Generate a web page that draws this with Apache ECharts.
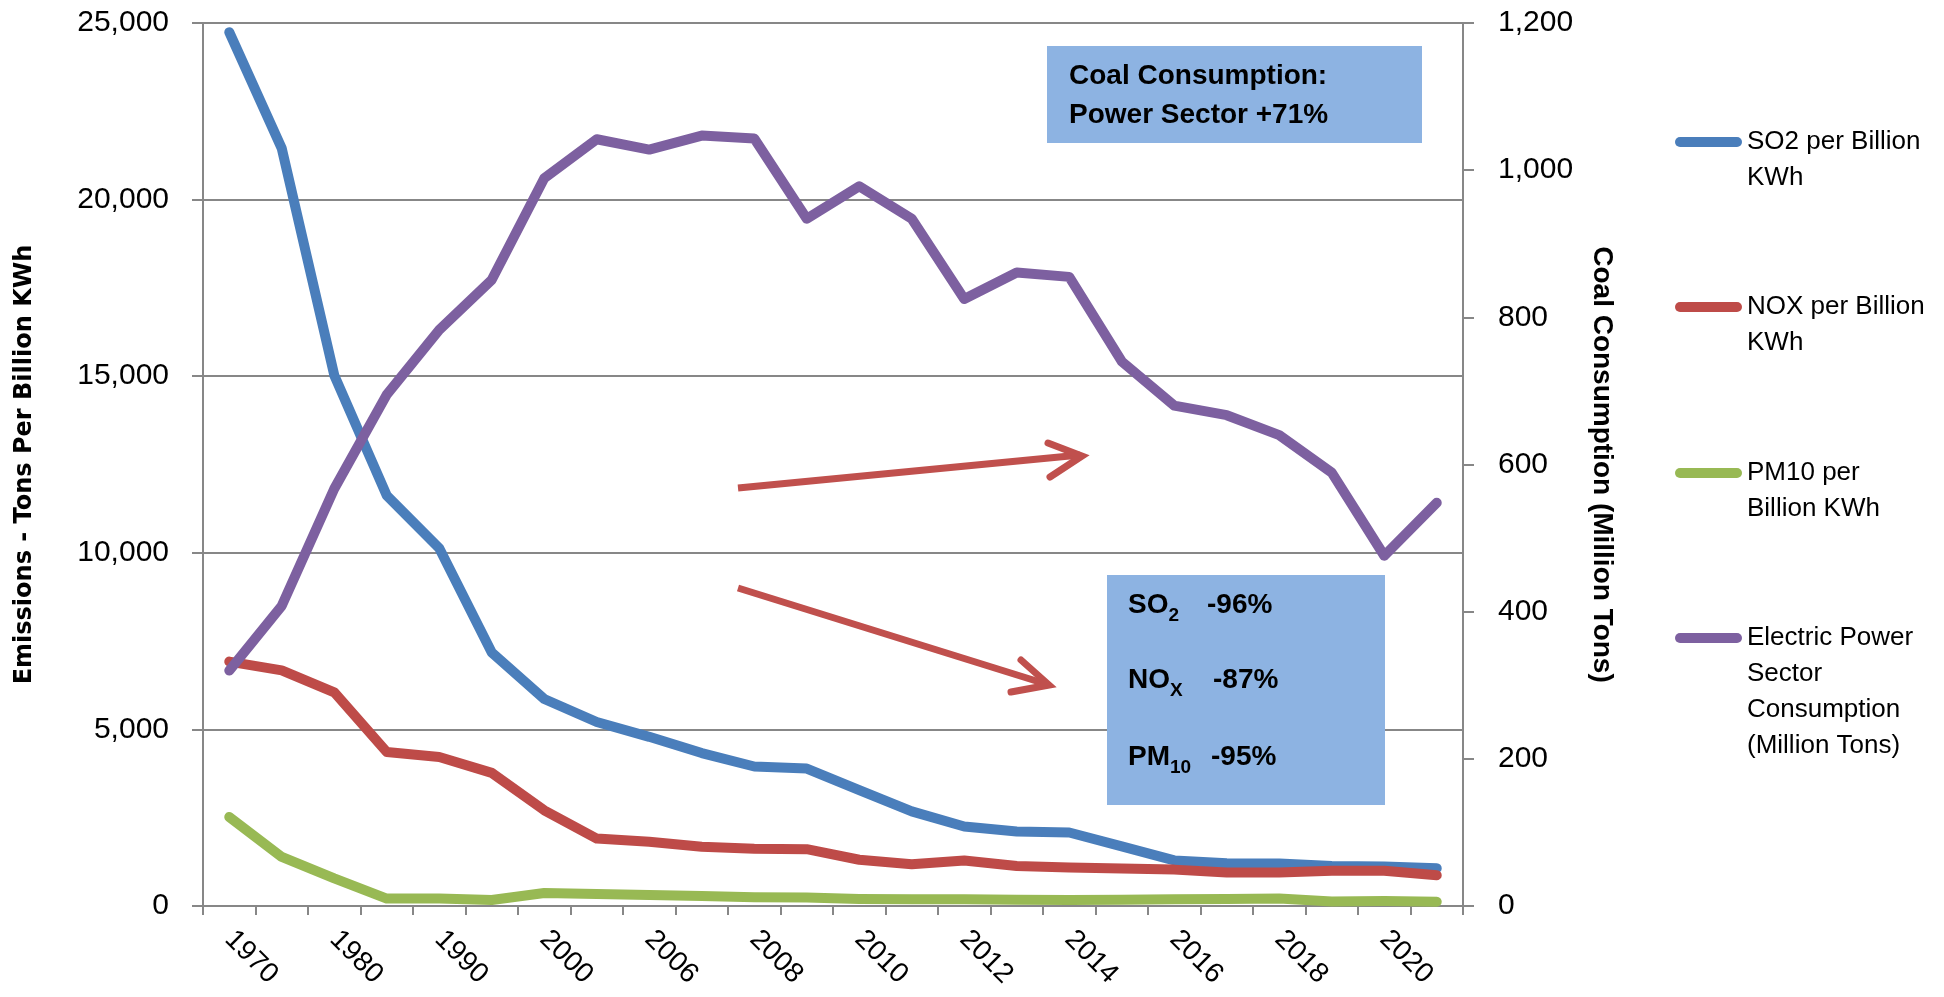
<!DOCTYPE html>
<html>
<head>
<meta charset="utf-8">
<script src="https://cdn.jsdelivr.net/npm/echarts@6/dist/echarts.min.js"></script>
<style>
html,body{margin:0;padding:0;background:#fff;}
#chart{width:1944px;height:997px;}
</style>
</head>
<body>
<div id="chart"></div>
<script>
// ---- data ----
const categories = ['1970','1975','1980','1985','1990','1995','2000','2005','2006','2007','2008','2009','2010','2011','2012','2013','2014','2015','2016','2017','2018','2019','2020','2021'];
const so2  = [24740, 21450, 15030, 11620, 10130, 7180, 5860, 5210, 4790, 4330, 3950, 3890, 3280, 2680, 2250, 2110, 2080, 1690, 1290, 1210, 1200, 1130, 1120, 1070];
const nox  = [6920, 6670, 6050, 4360, 4220, 3770, 2710, 1910, 1820, 1680, 1620, 1610, 1310, 1180, 1290, 1130, 1090, 1060, 1030, 950, 950, 1000, 1000, 870];
const pm10 = [2520, 1390, 780, 210, 210, 170, 370, 340, 310, 280, 250, 240, 200, 190, 190, 180, 170, 180, 190, 200, 210, 130, 140, 120];
const coal = [320, 408, 567, 695, 783, 851, 989, 1042, 1028, 1047, 1043, 934, 978, 934, 825, 861, 855, 740, 680, 667, 640, 589, 476, 548];
const seriesNames = ['SO2 per Billion KWh', 'NOX per Billion KWh', 'PM10 per Billion KWh', 'Electric Power Sector Consumption (Million Tons)'];
const legendLabels = ['SO2 per Billion\nKWh', 'NOX per Billion\nKWh', 'PM10 per\nBillion KWh', 'Electric Power\nSector\nConsumption\n(Million Tons)'];
const leftAxisTicks = [0, 5000, 10000, 15000, 20000, 25000];
const rightAxisTicks = [0, 200, 400, 600, 800, 1000, 1200];
const leftAxisTitle = 'Emissions - Tons Per Billion KWh';
const rightAxisTitle = 'Coal Consumption (Million Tons)';
const boxOneLines = ['Coal Consumption:', 'Power Sector +71%'];
const boxTwoRows = [['SO', '2', '-96%'], ['NO', 'X', '-87%'], ['PM', '10', '-95%']];

// ---- style ----
const FONT = 'Liberation Sans';
const GRAY = '#878787';
const colors = ['#4A7EBB', '#BE4B48', '#98B954', '#7D60A0'];
const ARROW = '#C0504D';
const BOX = '#8DB3E2';
const seriesValues = [so2, nox, pm10, coal];

const chart = echarts.init(document.getElementById('chart'), null, {renderer: 'canvas'});

const LH = 36;
const legendCenters = [142, 307, 473, 638];
const capsule = 'path://M5,0 L62,0 A5,5 0 0 1 62,10 L5,10 A5,5 0 0 1 5,0 Z';
const legends = seriesNames.map((n, i) => {
  const lines = legendLabels[i].split('\n').length;
  return {
    data: [n],
    orient: 'vertical',
    left: 1675,
    top: legendCenters[i] - (2 * lines - 1) * LH / 2,
    padding: 0,
    itemWidth: 67,
    itemHeight: 10,
    icon: capsule,
    selectedMode: false,
    formatter: () => '\n'.repeat(lines - 1) + legendLabels[i],
    textStyle: {fontFamily: FONT, fontSize: 26, lineHeight: LH, color: '#000'}
  };
});

const boxTextStyle = {fontFamily: FONT, fontWeight: 'bold', fontSize: 28, fill: '#000'};
const rowCenters = [605.5, 680, 757.5];
const pctX = [1207, 1213, 1211];

const graphics = [
  {type: 'rect', z: 50, shape: {x: 1047, y: 46, width: 375, height: 97}, style: {fill: BOX}},
  {type: 'text', z: 51, x: 1069, y: 76, style: Object.assign({text: boxOneLines[0], align: 'left', verticalAlign: 'middle'}, boxTextStyle)},
  {type: 'text', z: 51, x: 1069, y: 115.5, style: Object.assign({text: boxOneLines[1], align: 'left', verticalAlign: 'middle'}, boxTextStyle)},
  {type: 'rect', z: 50, shape: {x: 1107, y: 575, width: 278, height: 230}, style: {fill: BOX}},
  // arrows
  {type: 'polyline', z: 52, shape: {points: [[738, 488], [1080, 455]]}, style: {stroke: ARROW, lineWidth: 7, fill: null, lineCap: 'butt'}},
  {type: 'polyline', z: 52, shape: {points: [[1048, 443], [1082, 456], [1050, 477]]}, style: {stroke: ARROW, lineWidth: 7, fill: null, lineCap: 'round', lineJoin: 'miter'}},
  {type: 'polyline', z: 52, shape: {points: [[738, 588], [1046, 684]]}, style: {stroke: ARROW, lineWidth: 7, fill: null, lineCap: 'butt'}},
  {type: 'polyline', z: 52, shape: {points: [[1021, 660], [1049, 685], [1011, 692]]}, style: {stroke: ARROW, lineWidth: 7, fill: null, lineCap: 'round', lineJoin: 'miter'}}
];
boxTwoRows.forEach((r, i) => {
  graphics.push({
    type: 'text', z: 51, x: 1128, y: rowCenters[i] - 14,
    style: {
      text: '{m|' + r[0] + '}{s|' + r[1] + '}',
      align: 'left', verticalAlign: 'top',
      rich: {
        m: {fontFamily: FONT, fontWeight: 'bold', fontSize: 28, color: '#000', verticalAlign: 'top'},
        s: {fontFamily: FONT, fontWeight: 'bold', fontSize: 19, color: '#000', verticalAlign: 'top', padding: [15, 0, 0, 0]}
      }
    }
  });
  graphics.push({type: 'text', z: 51, x: pctX[i], y: rowCenters[i], style: Object.assign({text: r[2], align: 'left', verticalAlign: 'middle'}, boxTextStyle)});
});

const option = {
  animation: false,
  backgroundColor: '#fff',
  grid: {left: 203, right: 481, top: 23, bottom: 91, containLabel: false, outerBoundsMode: 'none'},
  legend: legends,
  xAxis: {
    type: 'category',
    data: categories,
    boundaryGap: true,
    axisLine: {show: true, lineStyle: {color: GRAY, width: 2}},
    axisTick: {show: true, interval: 0, length: 9, lineStyle: {color: GRAY, width: 2}},
    axisLabel: {interval: 1, rotate: -45, margin: 29, fontFamily: FONT, fontSize: 28, color: '#000'},
    splitLine: {show: false}
  },
  yAxis: [
    {
      type: 'value', position: 'left',
      min: leftAxisTicks[0], max: leftAxisTicks[leftAxisTicks.length - 1], interval: leftAxisTicks[1] - leftAxisTicks[0],
      name: leftAxisTitle, nameLocation: 'middle', nameGap: 166,
      nameTextStyle: {fontFamily: 'DejaVu Sans', fontWeight: 'bold', fontSize: 24, color: '#000'},
      axisLine: {show: true, lineStyle: {color: GRAY, width: 2}},
      axisTick: {show: true, length: 11, lineStyle: {color: GRAY, width: 2}},
      axisLabel: {margin: 34, fontFamily: FONT, fontSize: 30, color: '#000'},
      splitLine: {show: true, lineStyle: {color: GRAY, width: 2}}
    },
    {
      type: 'value', position: 'right',
      min: rightAxisTicks[0], max: rightAxisTicks[rightAxisTicks.length - 1], interval: rightAxisTicks[1] - rightAxisTicks[0],
      name: rightAxisTitle, nameLocation: 'middle', nameRotate: -90, nameGap: 125,
      nameTextStyle: {fontFamily: FONT, fontWeight: 'bold', fontSize: 28, color: '#000'},
      axisLine: {show: true, lineStyle: {color: GRAY, width: 2}},
      axisTick: {show: true, length: 11, lineStyle: {color: GRAY, width: 2}},
      axisLabel: {margin: 35, fontFamily: FONT, fontSize: 30, color: '#000'},
      splitLine: {show: false}
    }
  ],
  series: seriesNames.map((n, i) => ({
    name: n,
    type: 'line',
    yAxisIndex: i === 3 ? 1 : 0,
    data: seriesValues[i],
    symbol: 'none',
    z: 2 + i,
    lineStyle: {width: 10, color: colors[i], cap: 'round', join: 'round'},
    itemStyle: {color: colors[i]},
    emphasis: {disabled: true}
  })),
  graphic: graphics
};
chart.setOption(option);
</script>
</body>
</html>
